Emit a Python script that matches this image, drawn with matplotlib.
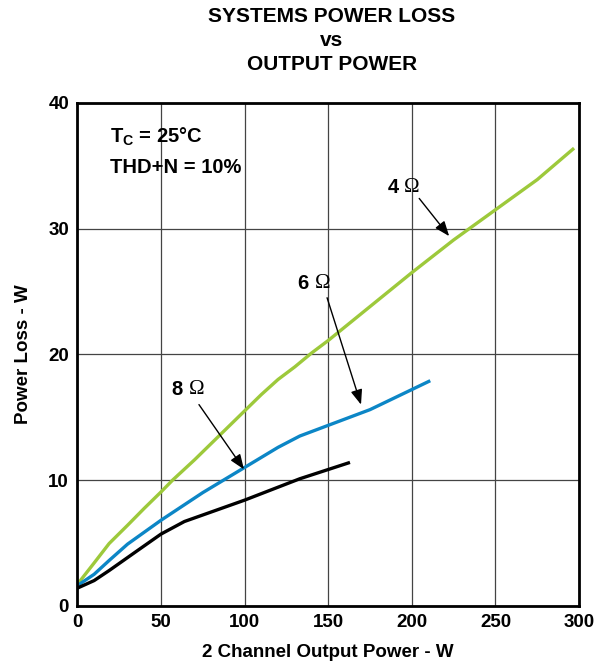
import matplotlib
matplotlib.use('Agg')
from matplotlib import pyplot

# Data
x_4ohm = [0, 10, 19, 30, 40, 50, 57, 70, 80, 90, 100, 110, 120, 130, 140, 150, 175, 200, 225, 250, 275, 297]
y_4ohm = [1.7, 3.4, 4.95, 6.4, 7.75, 9.05, 10.0, 11.6, 12.9, 14.2, 15.5, 16.8, 18.0, 19.0, 20.1, 21.1, 23.8, 26.5, 29.1, 31.5, 33.9, 36.4]

x_6ohm = [0, 10, 19, 30, 50, 75, 100, 120, 133, 157, 175, 211]
y_6ohm = [1.6, 2.5, 3.6, 4.9, 6.8, 9.0, 11.0, 12.6, 13.5, 14.7, 15.6, 17.9]

x_8ohm = [0, 10, 19, 35, 50, 64, 100, 133, 163]
y_8ohm = [1.4, 2.0, 2.8, 4.3, 5.7, 6.7, 8.4, 10.1, 11.4]

x_ticks = [0, 50, 100, 150, 200, 250, 300]
y_ticks = [0, 10, 20, 30, 40]

pyplot.rcParams['font.family'] = ['Liberation Sans', 'DejaVu Sans']
pyplot.rcParams['mathtext.default'] = 'regular'

fig = pyplot.figure(figsize=(5.98, 6.66), dpi=100)
ax = fig.add_axes([0.1294, 0.0905, 0.839, 0.755])

ax.plot(x_4ohm, y_4ohm, color='#9DC93B', linewidth=2.4, solid_capstyle='butt')
ax.plot(x_6ohm, y_6ohm, color='#0C86C6', linewidth=2.4, solid_capstyle='butt')
ax.plot(x_8ohm, y_8ohm, color='#000000', linewidth=2.4, solid_capstyle='butt')

ax.set_xlim(0, 300)
ax.set_ylim(0, 40)
ax.set_xticks(x_ticks)
ax.set_yticks(y_ticks)
ax.tick_params(length=0, labelsize=13.5, pad=6)
for label in ax.get_xticklabels() + ax.get_yticklabels():
    label.set_fontweight('bold')
ax.grid(color='#444444', linewidth=0.9)
ax.set_axisbelow(True)
for spine in ax.spines.values():
    spine.set_linewidth(2)

ax.set_xlabel('2 Channel Output Power - W', fontsize=13.5, fontweight='bold', labelpad=9)
ax.set_ylabel('Power Loss - W', fontsize=13.5, fontweight='bold', labelpad=12)

fig.text(0.555, 0.99, 'SYSTEMS POWER LOSS\nvs\nOUTPUT POWER', ha='center', va='top',
         fontsize=15, fontweight='bold', linespacing=1.35)

ax.text(19.5, 37.3, '$T_C$ = 25°C', fontsize=14.5, fontweight='bold', va='center')
ax.text(19.5, 34.9, 'THD+N = 10%', fontsize=14.5, fontweight='bold', va='center')

arrow = dict(arrowstyle='-|>,head_length=0.9,head_width=0.35', color='black', linewidth=1, shrinkA=0, shrinkB=0)
labels = [('4', 195.5, 33.3, (204.4, 32.4), (222.3, 29.4)),
          ('6', 141.8, 25.6, (149.3, 24.5), (169.6, 16.0)),
          ('8', 66.8, 17.2, (72.7, 16.0), (99.6, 10.85))]
for name, tx, ty, tail, head in labels:
    ax.text(tx, ty, name + ' ', fontsize=14.5, fontweight='bold', ha='right', va='center')
    ax.text(tx, ty, '\u03a9', fontsize=15, family='Liberation Serif', ha='left', va='center')
    ax.annotate('', xy=head, xytext=tail, arrowprops=arrow)

fig.savefig('out.png', dpi=100)
